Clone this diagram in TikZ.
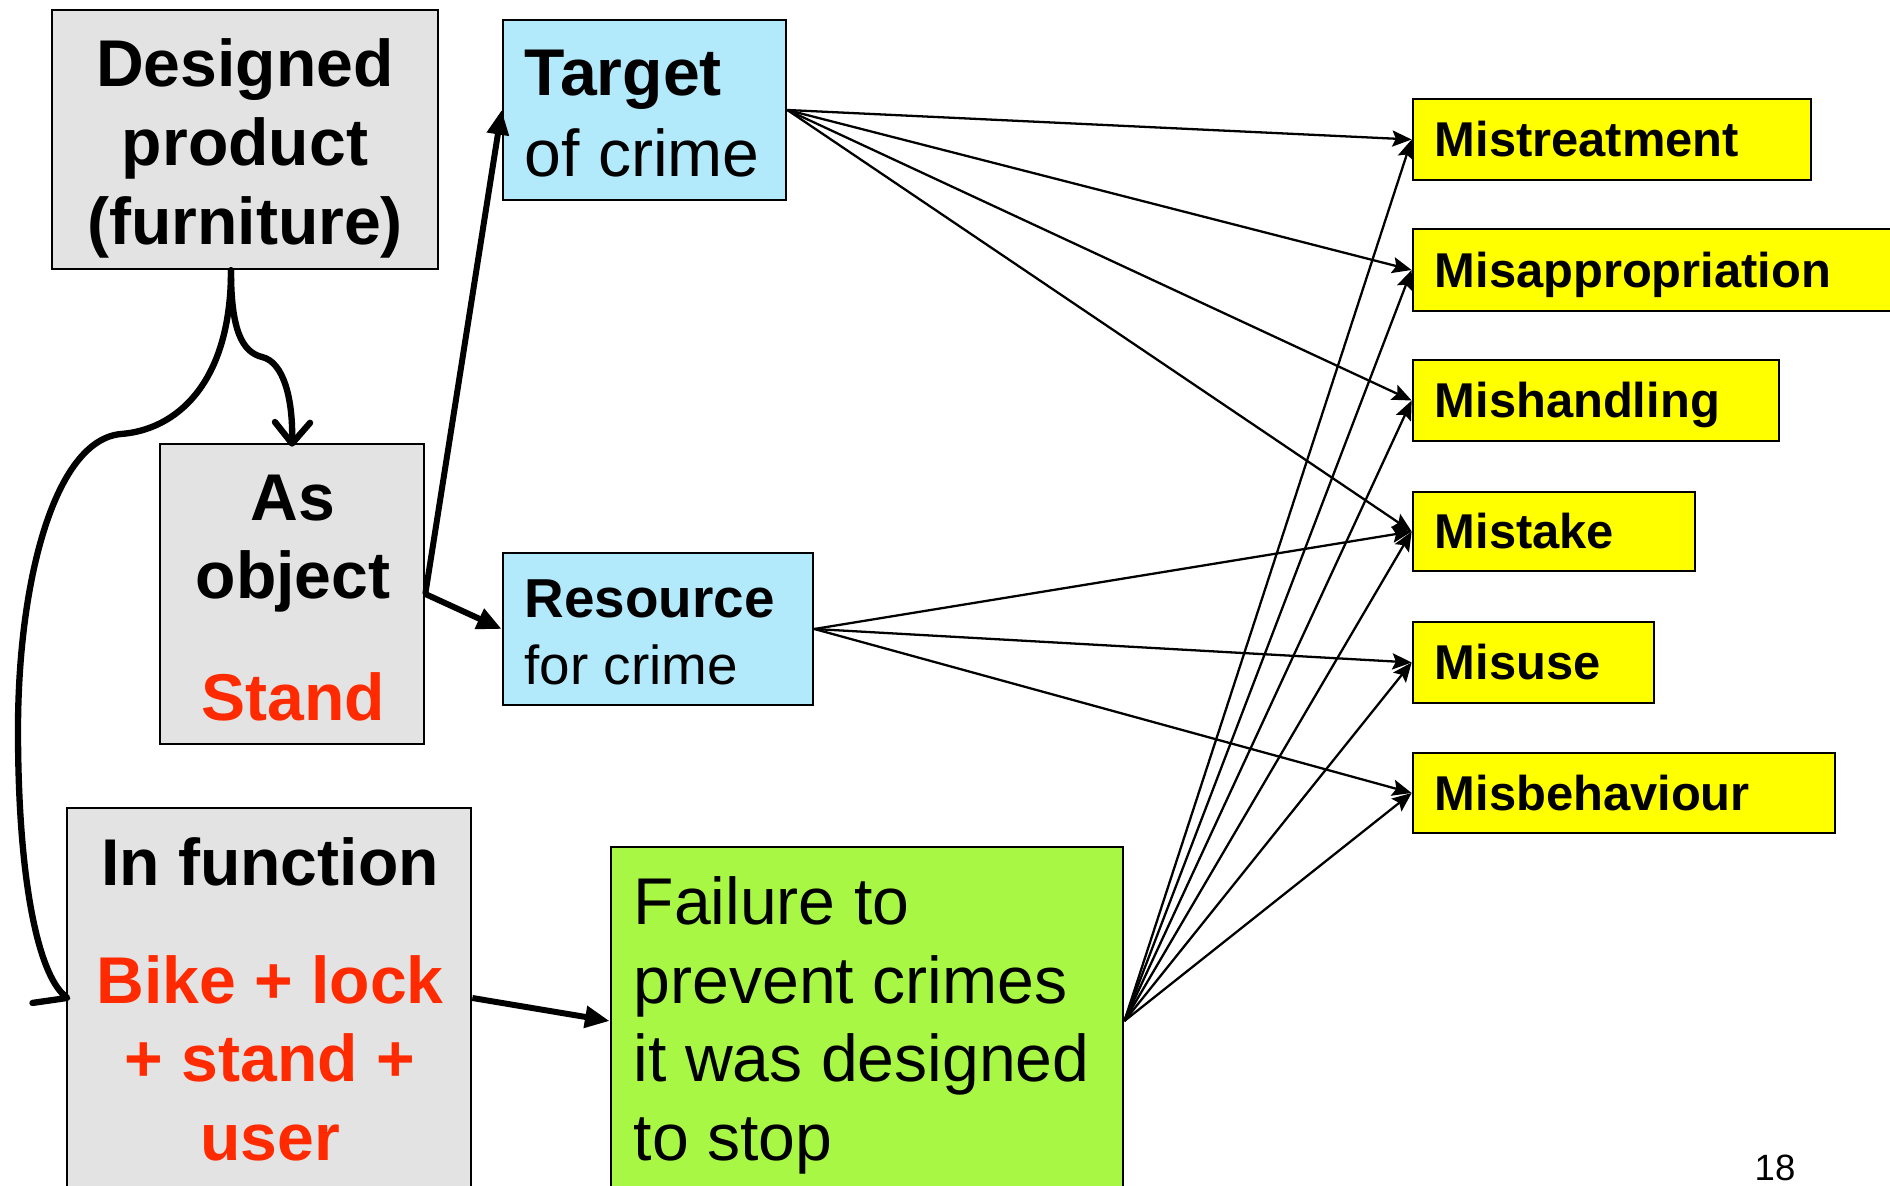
\documentclass[tikz,border=0pt]{standalone}
\usepackage{fontspec}
\setmainfont{Liberation Sans}
\usetikzlibrary{arrows.meta,calc}
\definecolor{boxgray}{HTML}{E3E3E3}
\definecolor{boxblue}{HTML}{B2E9FB}
\definecolor{boxyellow}{HTML}{FFFF00}
\definecolor{boxgreen}{HTML}{A8F744}
\definecolor{accentred}{HTML}{FF2A00}
\begin{document}
\begin{tikzpicture}[x=0.01cm,y=-0.01cm,
  box/.style={draw=black, line width=0.7pt, inner sep=0pt, rectangle},
  txt/.style={inner sep=0pt, anchor=base},
  txtw/.style={inner sep=0pt, anchor=base west},
  bigb/.style={font=\fontsize{18.8}{22.5}\selectfont\bfseries},
  bigr/.style={font=\fontsize{18.8}{22.5}\selectfont},
  midb/.style={font=\fontsize{15.6}{19}\selectfont\bfseries},
  midr/.style={font=\fontsize{15.6}{19}\selectfont},
  misb/.style={font=\fontsize{13.9}{17}\selectfont\bfseries},
  thick arrow/.style={line width=1.7pt, -{Triangle[length=7pt,width=6pt]}},
  vee arrow/.style={line width=1.8pt, line cap=round,
    -{Straight Barb[length=6pt,width=10pt,line width=1.8pt,round]}},
  harpoon arrow/.style={line width=1.8pt, line cap=round,
    -{Straight Barb[right,length=6.6pt,width=15pt,line width=1.8pt,round]}},
  thin arrow/.style={line width=0.65pt, -{Stealth[length=5.5pt,width=4.6pt,inset=1pt]}},
]
\useasboundingbox (0,0) rectangle (1890,1186);
\clip (0,0) rectangle (1890,1186);

% boxes
\node[box, fill=boxgray, minimum width=3.86cm, minimum height=2.59cm] (dp) at (245,139.5) {};
\node[box, fill=boxblue, minimum width=2.83cm, minimum height=1.80cm] (tc) at (644.5,110) {};
\node[box, fill=boxgray, minimum width=2.64cm, minimum height=3.00cm] (ao) at (292,594) {};
\node[box, fill=boxblue, minimum width=3.10cm, minimum height=1.52cm] (rc) at (658,629) {};
\node[box, fill=boxgray, minimum width=4.04cm, minimum height=3.80cm] (fn) at (269,998) {};
\node[box, fill=boxgreen, minimum width=5.12cm, minimum height=3.48cm] (fl) at (867,1021) {};

\node[box, fill=boxyellow, minimum width=3.98cm, minimum height=0.81cm] (m1) at (1612,139.5) {};
\node[box, fill=boxyellow, minimum width=4.87cm, minimum height=0.82cm] (m2) at (1656.5,270) {};
\node[box, fill=boxyellow, minimum width=3.66cm, minimum height=0.81cm] (m3) at (1596,400.5) {};
\node[box, fill=boxyellow, minimum width=2.82cm, minimum height=0.79cm] (m4) at (1554,531.5) {};
\node[box, fill=boxyellow, minimum width=2.41cm, minimum height=0.81cm] (m5) at (1533.5,662.5) {};
\node[box, fill=boxyellow, minimum width=4.22cm, minimum height=0.80cm] (m6) at (1624,793) {};

% texts
\node[txt, bigb] (dp1) at (245,87) {Designed};
\node[txt, bigb] (dp2) at (245,166) {product};
\node[txt, bigb] (dp3) at (245,245) {(furniture)};

\node[txtw, bigb] (tc1) at (524,96) {Target};
\node[txtw, bigr] (tc2) at (524,177) {of crime};

\node[txt, bigb] (ao1) at (293,521) {As};
\node[txt, bigb] (ao2) at (293,599) {object};
\node[txt, bigb, text=accentred] (ao3) at (293,721) {Stand};

\node[txtw, midb] (rc1) at (524,618) {Resource};
\node[txtw, midr] (rc2) at (524,685) {for crime};

\node[txt, bigb] (fn1) at (270,886) {In function};
\node[txt, bigb, text=accentred] (fn2) at (270,1004) {Bike + lock};
\node[txt, bigb, text=accentred] (fn3) at (270,1082) {+ stand +};
\node[txt, bigb, text=accentred] (fn4) at (270,1161) {user};

\node[txtw, bigr] (fl1) at (633,925) {Failure to};
\node[txtw, bigr] (fl2) at (633,1004) {prevent crimes};
\node[txtw, bigr] (fl3) at (633,1082) {it was designed};
\node[txtw, bigr] (fl4) at (633,1161) {to stop};

\node[txtw, misb] (m1t) at (1434,157) {Mistreatment};
\node[txtw, misb] (m2t) at (1434,287.5) {Misappropriation};
\node[txtw, misb] (m3t) at (1434,418) {Mishandling};
\node[txtw, misb] (m4t) at (1434,549) {Mistake};
\node[txtw, misb] (m5t) at (1434,680) {Misuse};
\node[txtw, misb] (m6t) at (1434,810.5) {Misbehaviour};

\node[txtw, font=\fontsize{10.4}{12}\selectfont] (pg) at (1754,1181) {18};

% connectors from the designed product
\coordinate (dpout) at ($(dp.south)+(-14,0)$);
\coordinate (aoin) at ($(ao.north)+(0,4)$);
\coordinate (fnin) at ($(fn.west)+(4,2)$);
\draw[vee arrow] (dpout) .. controls (231,330) and (242,352) .. (262,357)
  .. controls (284,362) and (293,400) .. (aoin);
\draw[harpoon arrow] (dpout) .. controls (231,385) and (175,430) .. (121,434)
  .. controls (55,440) and (18,580) .. (18,730)
  .. controls (18,880) and (38,973) .. (fnin);

% thick arrows
\draw[thick arrow] (ao.east) -- (tc.west);
\draw[thick arrow] (ao.east) -- (rc.west);
\draw[thick arrow] (fn.east) -- (fl.west);

% thin arrows to the misconduct categories
\foreach \m in {m1,m2,m3,m4}
  \draw[thin arrow] (tc.east) -- (\m.west);
\foreach \m in {m4,m5,m6}
  \draw[thin arrow] (rc.east) -- (\m.west);
\foreach \m in {m1,m2,m3,m4,m5,m6}
  \draw[thin arrow] (fl.east) -- (\m.west);
\end{tikzpicture}
\end{document}
